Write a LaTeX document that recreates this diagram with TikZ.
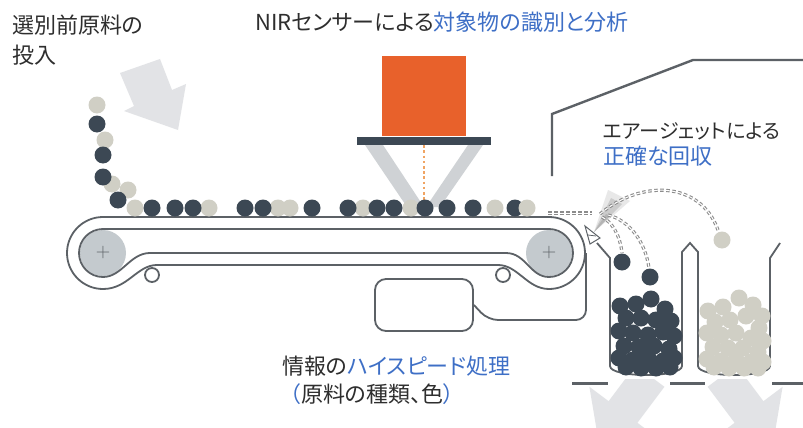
\documentclass[tikz,border=0pt]{standalone}
\usepackage{fontspec}
\newfontfamily\jpfont[RawFeature=+palt]{Noto Sans CJK JP}
\usepackage{tikz}
\usetikzlibrary{arrows}
\usetikzlibrary{shapes}
\definecolor{ink}{HTML}{2E2E2E}
\definecolor{accent}{HTML}{3E6FC6}
\definecolor{slate}{HTML}{3C4854}
\definecolor{sand}{HTML}{D0CFC5}
\definecolor{rollergray}{HTML}{C4CACE}
\definecolor{beltline}{HTML}{5C6166}
\definecolor{sensor}{HTML}{E8612B}
\definecolor{beam}{HTML}{F0A463}
\definecolor{legs}{HTML}{CFD2D5}
\definecolor{flow}{HTML}{E2E3E6}

\begin{document}
\begin{tikzpicture}[x=1pt, y=-1pt, >=stealth]
                \tikzstyle{jptext} = [font=\jpfont\fontsize{22}{25}\selectfont, text=ink, inner sep=0pt, anchor=west]
                \tikzstyle{belt} = [draw=beltline, line width=1.8pt]
                \tikzstyle{roller} = [circle, fill=rollergray, minimum size=46pt, inner sep=0pt, text=beltline, font=\fontsize{20}{20}\selectfont]
                \tikzstyle{idler} = [circle, belt, fill=white, minimum size=14pt, inner sep=0pt]
                \tikzstyle{trail} = [draw=gray!90, line width=1.1pt, dash pattern=on 3.5pt off 2.5pt, double=white, double distance=1pt]
                \tikzstyle{darkball} = [fill=slate]
                \tikzstyle{lightball} = [fill=sand]

                \useasboundingbox (0,0) rectangle (803,428);
                \fill[white] (0,0) rectangle (803,428);

                % Housing over the sorting chamber
                \draw[beltline, line width=2.4pt] (552,176) -- (552,114) -- (693,60) -- (803,60);

                % Feed arrow
                \fill[flow] (120,73) -- (160,59) -- (172,90) -- (186,84) -- (178,130) -- (124,111) -- (134,106) -- cycle;

                % NIR sensor head
                \fill[legs] (365,145) -- (383,145) -- (424,207) -- (407,207) -- cycle;
                \fill[legs] (468,145) -- (483,145) -- (440,207) -- (426,207) -- cycle;
                \node[fill=sensor, minimum width=84pt, minimum height=80pt, inner sep=0pt] (nir) at (424,96) {};
                \node[fill=slate, minimum width=134pt, minimum height=8pt, inner sep=0pt] (bar) at (424,141) {};
                \coordinate (spot) at (424,203);
                \draw[beam, line width=2.6pt, dash pattern=on 2.6pt off 2.6pt] (bar.south) -- (spot);

                % Rollers and conveyor belt
                \node[roller] (rollL) at (103,253) {+};
                \node[roller] (rollR) at (549,253) {+};
                \node[idler] (idleL) at (152,275) {};
                \node[idler] (idleR) at (503,275) {};
                \draw[belt] (103,217) -- (549,217) arc[start angle=-90, end angle=90, radius=36]
                        .. controls (527,289) and (518,265) .. (498,265) -- (157,265)
                        .. controls (137,265) and (128,289) .. (103,289)
                        arc[start angle=90, end angle=270, radius=36] -- cycle;
                \draw[belt] (103,229) -- (549,229) arc[start angle=-90, end angle=90, radius=24]
                        .. controls (530,277) and (526,253) .. (506,253) -- (150,253)
                        .. controls (130,253) and (122,277) .. (103,277)
                        arc[start angle=90, end angle=270, radius=24] -- cycle;

                % Processing unit
                \node[belt, rounded corners=11pt, minimum width=98pt, minimum height=52pt] (unit) at (424,305) {};
                \draw[belt, rounded corners=10pt] (unit.east) -- (488,320) -- (586,320) -- (586,253);

                % Air jet nozzle and spray
                \coordinate (jet) at (594,232);
                \fill[gray!30, opacity=0.6] (jet) -- (608,190) -- (630,201) -- cycle;
                \fill[gray!55, opacity=0.6] (jet) -- (611,198) -- (622,204) -- cycle;
                \fill[gray!70, opacity=0.6] (jet) -- (606,214) -- (610,216) -- cycle;
                \draw[beltline, fill=white, line width=1pt] (585,226) -- (590,244) -- (600,238) -- cycle;
                \draw[beltline, line width=0.8pt] (588,235) -- (596,236);

                % Collection bins
                \draw[belt] (597,243) -- (610,258) -- (610,366) .. controls (610,378) and (682,378) .. (682,366)
                        -- (682,252) -- (690,243) -- (698,252) -- (698,366)
                        .. controls (698,378) and (770,378) .. (770,366) -- (770,258) -- (780,243);

                % Outflow arrows
                \begin{scope}
                        \clip (560,379) rectangle (803,428);
                        \fill[flow] (635.6,365.2) -- (664.4,386.8) -- (637.4,422.8) -- (656.6,437.2) -- (599,444) -- (589.4,386.8) -- (608.6,401.2) -- cycle;
                        \fill[flow] (736.4,365.2) -- (707.6,386.8) -- (734.6,422.8) -- (715.4,437.2) -- (773,444) -- (782.6,386.8) -- (763.4,401.2) -- cycle;
                \end{scope}
                \draw[beltline, line width=3pt] (572,383) -- (608,383) (670,383) -- (705,383) (772,383) -- (803,383);

                % Particle paths
                \draw[trail] (548,213) -- (592,213);
                \draw[trail] (600,214) .. controls (640,180) and (700,180) .. (718,230);
                \draw[trail] (602,217) .. controls (612,222) and (620,235) .. (622,253);
                \draw[trail] (608,215) .. controls (628,220) and (645,240) .. (649,268);

                % Material on the chute and belt
                \foreach \x/\y in {97/105, 105/140, 112/184, 128/190, 135/208, 209/208, 278/208, 290/208, 363/208, 411/208, 495/208}
                        \fill[lightball] (\x,\y) circle (8.5);
                \foreach \x/\y in {97/124, 103/155, 103/177, 118/200, 152/208, 175/208, 193/208, 245/208, 263/208, 312/208, 348/208, 377/208, 394/208, 425/208, 447/208, 473/208, 515/208}
                        \fill[darkball] (\x,\y) circle (8.5);
                \fill[lightball] (527,208) circle (8.5);

                % Sorted material
                \foreach \x/\y in {622/262, 650/277,
                                620/306, 636/304, 651/299, 665/309,
                                626/318, 641/318, 656/320, 671/321,
                                619/331, 633/333, 648/335, 663/332, 674/336,
                                624/346, 639/347, 654/346, 669/349,
                                619/358, 633/360, 648/358, 663/361, 674/358,
                                626/367, 641/368, 656/368, 670/367}
                        \fill[darkball] (\x,\y) circle (8.5);
                \foreach \x/\y in {722/240,
                                708/311, 723/307, 739/298, 753/305, 762/316,
                                715/322, 730/320, 746/316, 759/328,
                                707/333, 721/335, 736/333, 751/338, 763/341,
                                713/347, 728/348, 743/348, 758/352,
                                707/359, 721/361, 736/360, 751/362, 763/362,
                                714/367, 729/368, 744/368, 758/368}
                        \fill[lightball] (\x,\y) circle (8.5);

                % Captions
                \node[jptext] (feed1) at (12,25) {選別前原料の};
                \node[jptext, anchor=north west] (feed2) at ([yshift=-9pt]feed1.south west) {投入};
                \node[jptext] (title) at (255,22) {NIRセンサーによる\textcolor{accent}{対象物の識別と分析}};
                \node[jptext, font=\jpfont\fontsize{20}{24}\selectfont] (air1) at (603,131) {エアージェットによる};
                \node[jptext, anchor=north west] (air2) at ([yshift=-6pt]air1.south west) {\textcolor{accent}{正確な回収}};
                \node[jptext] (proc1) at (282,366) {情報の\textcolor{accent}{ハイスピード処理}};
                \node[jptext, anchor=north west] (proc2) at ([xshift=8pt, yshift=-7pt]proc1.south west) {\textcolor{accent}{（}原料の種類、色\textcolor{accent}{）}};
\end{tikzpicture}
\end{document}
